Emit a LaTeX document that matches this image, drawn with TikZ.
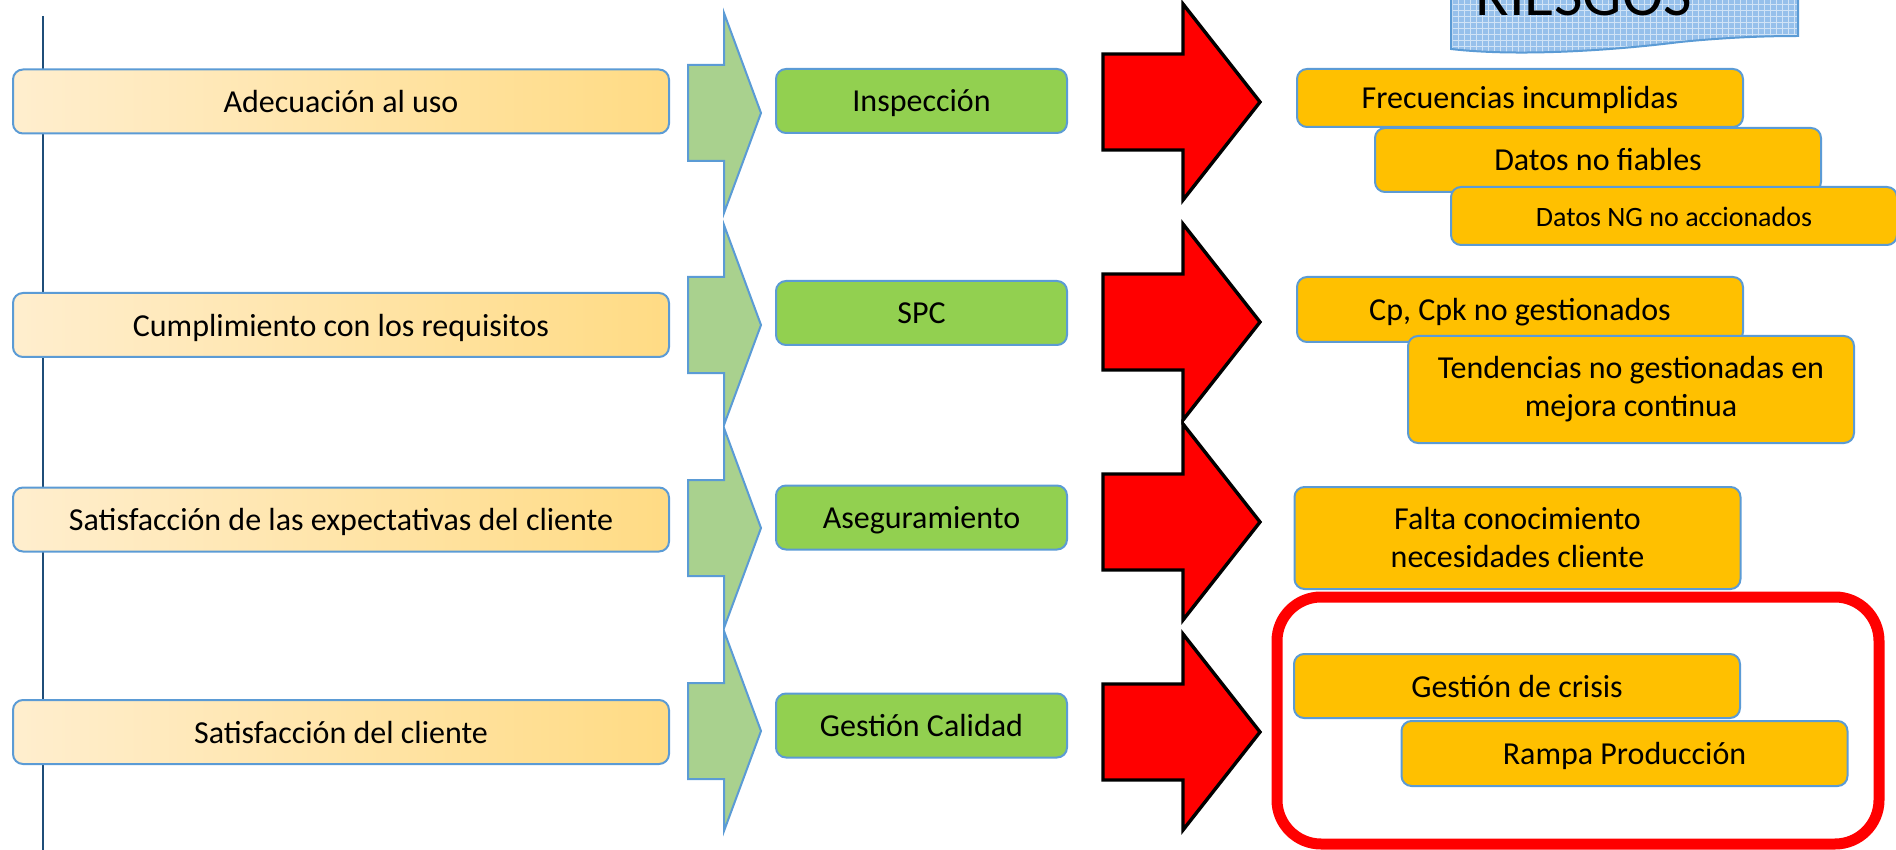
\documentclass[tikz,border=0pt]{standalone}
\usepackage{fontspec}
\setmainfont{Carlito}
\usetikzlibrary{patterns}
\definecolor{peachA}{RGB}{255,238,206}
\definecolor{peachB}{RGB}{255,219,132}
\definecolor{gold}{RGB}{255,192,0}
\definecolor{leaf}{RGB}{146,208,80}
\definecolor{sage}{RGB}{169,209,142}
\definecolor{edge}{RGB}{91,155,213}
\definecolor{navy}{RGB}{31,78,121}
\definecolor{sky}{RGB}{150,192,235}

\begin{document}
\begin{tikzpicture}[x=0.5pt, y=-0.5pt,
  txt/.style={font=\fontsize{16}{19}\selectfont, align=center, inner sep=0pt},
  oneline/.style={text height=14.5pt, text depth=3.5pt},
  req/.style={txt, oneline, draw=edge, line width=1pt, rounded corners=5pt,
    left color=peachA, right color=peachB, minimum width=328pt, minimum height=32pt},
  proc/.style={txt, oneline, draw=edge, line width=1pt, rounded corners=5pt, fill=leaf,
    minimum width=145.5pt, minimum height=32pt},
  risk/.style={txt, draw=edge, line width=1pt, rounded corners=5pt, fill=gold,
    minimum width=223pt, minimum height=32pt},
  garrow/.style={draw=edge, line width=1pt, fill=sage, line join=miter},
  rarrow/.style={draw=black, line width=1.7pt, fill=red, line join=miter}]

  \useasboundingbox (0,0) rectangle (1896,850);
  \clip (0,0) rectangle (1896,850);

  \newcommand\GArrow[1]{\draw[garrow] (688,#1-48) -- (724,#1-48) -- (724,#1-100)
    -- (761,#1) -- (724,#1+100) -- (724,#1+48) -- (688,#1+48) -- cycle;}
  \newcommand\RArrow[1]{\draw[rarrow] (1103,#1-48) -- (1183,#1-48) -- (1183,#1-98)
    -- (1260,#1) -- (1183,#1+98) -- (1183,#1+48) -- (1103,#1+48) -- cycle;}

  \draw[navy, line width=1pt] (43,16) -- (43,850); % time line

  % requirements
  \node[req] (adec)  at (341,101.5) {Adecuación al uso};
  \node[req] (cumpl) at (341,325)   {Cumplimiento con los requisitos};
  \node[req] (expec) at (341,519.5) {Satisfacción de las expectativas del cliente};
  \node[req] (satis) at (341,732)   {Satisfacción del cliente};

  \GArrow{113}
  \GArrow{325}
  \GArrow{528}
  \GArrow{731}

  % tools
  \node[proc] (insp) at (921.5,101)   {Inspección};
  \node[proc] (spc)  at (921.5,313)   {SPC};
  \node[proc] (aseg) at (921.5,517.5) {Aseguramiento};
  \node[proc] (gest) at (921.5,725.5) {Gestión Calidad};

  \RArrow{102}
  \RArrow{322}
  \RArrow{522}
  \RArrow{732}

  % title
  \draw[edge, line width=1pt, preaction={fill=sky}, pattern=grid, pattern color=white!55!sky]
    (1451,-40) -- (1798,-40) -- (1798,36)
    .. controls (1770,36) and (1730,37) .. (1680,42)
    .. controls (1600,52) and (1510,56) .. (1451,49) -- cycle;
  \node[font=\fontsize{31}{31}\selectfont, anchor=base, inner sep=0pt] (ries) at (1583.5,16) {RIESGOS};

  % risks
  \node[risk, oneline, minimum height=29pt] (frec) at (1520,98) {Frecuencias incumplidas};
  \node[risk, oneline] (fiab) at (1598,160) {Datos no fiables};
  \node[risk, oneline, minimum height=29pt, font=\fontsize{14}{17}\selectfont] (ng) at (1674,216) {Datos NG no accionados};

  \node[risk, oneline, minimum height=32.5pt] (cpk) at (1520,309.5) {Cp, Cpk no gestionados};
  \node[risk, minimum height=53.5pt] (tend) at (1631,389.5) {Tendencias no gestionadas en\\mejora continua};

  \node[risk, minimum height=51pt] (falta) at (1517.5,538) {Falta conocimiento\\necesidades cliente};

  \draw[red, line width=5.5pt, rounded corners=22pt] (1277,597) rectangle (1879,844); % focus
  \node[risk, oneline] (crisis) at (1517,686) {Gestión de crisis};
  \node[risk, oneline, minimum height=32.5pt] (rampa) at (1624.5,753.5) {Rampa Producción};
\end{tikzpicture}
\end{document}
